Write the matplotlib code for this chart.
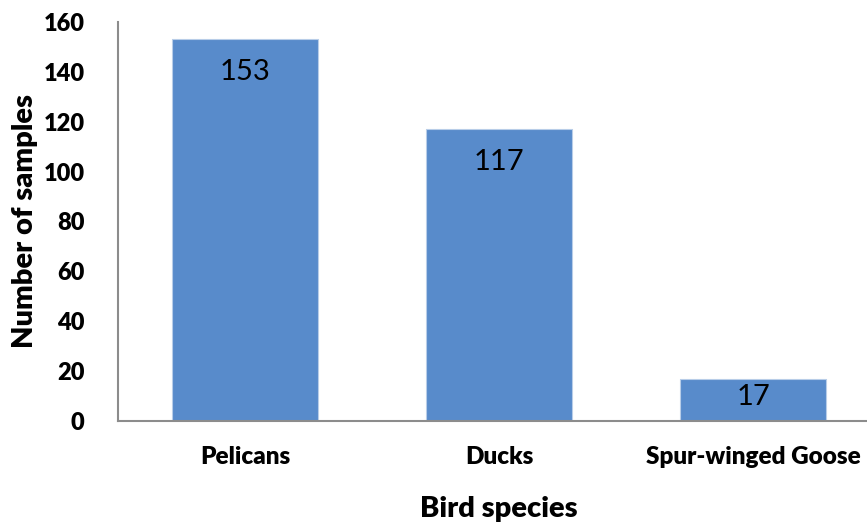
import matplotlib.pyplot as plt

species = ["Pelicans", "Ducks", "Spur-winged Goose"]
samples = [153, 117, 17]
yticks = [0, 20, 40, 60, 80, 100, 120, 140, 160]

plt.rcParams['font.family'] = ['Lato', 'DejaVu Sans']

fig = plt.figure(figsize=(8.67, 5.22), dpi=100)
ax = fig.add_axes([0.1361, 0.1935, 0.879, 0.7644])

x = range(len(species))
ax.bar(x, samples, width=0.575, color="#588bcb", edgecolor="#b8cde8", linewidth=0.8)
# value labels sit inside the top of each bar, centred on short bars
for xi, v in zip(x, samples):
    ax.text(xi, max(v - 13, v * 0.56), str(v), ha="center", va="center",
            fontsize=21, color="black")

ax.set_xlim(-0.5, 2.5)
ax.set_ylim(0, 160)
ax.set_yticks(yticks)
ax.set_xticks(list(x))
ax.set_xticklabels(species, fontsize=17.5, fontweight="heavy")
for lbl in ax.get_yticklabels():
    lbl.set_fontsize(17)
    lbl.set_fontweight("heavy")
ax.tick_params(length=0)
ax.tick_params(axis="x", pad=18)
ax.tick_params(axis="y", pad=24)

for s in ["top", "right"]:
    ax.spines[s].set_visible(False)
for s in ["left", "bottom"]:
    ax.spines[s].set_color("#8c8c8c")
    ax.spines[s].set_linewidth(1.5)

ax.set_xlabel("Bird species", fontsize=21, fontweight="heavy", labelpad=20)
ax.set_ylabel("Number of samples", fontsize=21, fontweight="heavy", labelpad=4)

fig.savefig("out.png", dpi=100)
